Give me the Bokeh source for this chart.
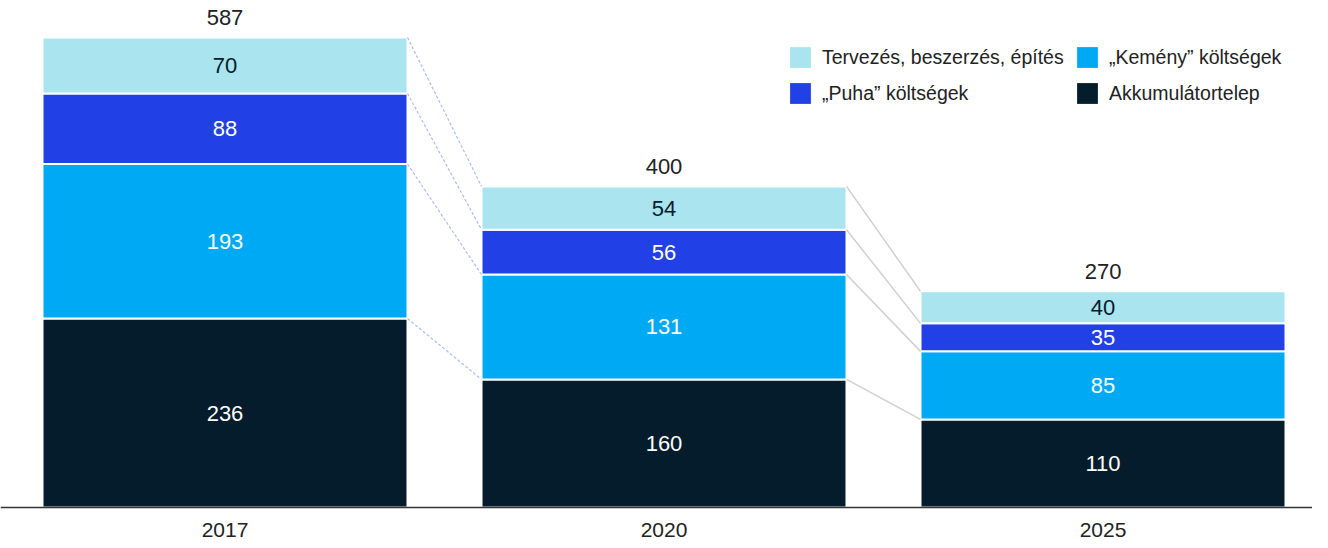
from bokeh.plotting import figure
from bokeh.models import Range1d, FixedTicker, Legend, LegendItem
from bokeh.core.properties import value
from bokeh.embed import file_html
from bokeh.resources import INLINE

years = ["2017", "2020", "2025"]
series = ["Akkumulátortelep", "„Kemény” költségek", "„Puha” költségek", "Tervezés, beszerzés, építés"]
akku = [236, 160, 110]
kemeny = [193, 131, 85]
puha = [88, 56, 35]
tervezes = [70, 54, 40]
totals = [587, 400, 270]

colors = ["#051C2C", "#00A9F4", "#2140E6", "#AAE4EE"]
label_colors = ["white", "white", "white", "#051C2C"]
FONT = "Liberation Sans"

W = 0.8314
p = figure(width=1312, height=540, output_backend="svg", toolbar_location=None,
           x_range=Range1d(-0.0114, 2.9772), y_range=Range1d(-41.2, 633.2),
           min_border_left=0, min_border_right=0, min_border_top=0, min_border_bottom=0)
p.outline_line_color = None
p.xgrid.visible = False
p.ygrid.visible = False
p.yaxis.visible = False

xs = [i + 0.5 for i in range(len(years))]
data = [akku, kemeny, puha, tervezes]
bottoms = [0.0] * len(years)
legend_renderers = []
tops_all = []
for k, vals in enumerate(data):
    tops = [b + v for b, v in zip(bottoms, vals)]
    p.vbar(x=xs, width=W, bottom=bottoms, top=tops, fill_color=colors[k],
           line_color="white", line_width=2)
    # legend swatch renderer: zero-height bar without outline
    lr = p.vbar(x=xs[:1], width=0.0, bottom=[0], top=[0], fill_color=colors[k],
                line_color=None)
    legend_renderers.append(lr)
    mids = [(b + t) / 2 for b, t in zip(bottoms, tops)]
    p.text(x=xs, y=mids, text=[str(v) for v in vals], text_align="center",
           text_baseline="middle", text_font=value(FONT), text_font_size="22px",
           text_color=label_colors[k])
    tops_all.append(tops)
    bottoms = tops

# totals
p.text(x=xs, y=bottoms, text=[str(t) for t in totals], text_align="center",
       text_baseline="middle", y_offset=-20, text_font=value(FONT),
       text_font_size="22px", text_color="#222222")

# connectors
for i in range(len(years) - 1):
    x0 = [xs[i] + W / 2] * 4
    x1 = [xs[i + 1] - W / 2] * 4
    y0 = [tops_all[k][i] for k in range(4)]
    y1 = [tops_all[k][i + 1] for k in range(4)]
    if i == 0:
        p.segment(x0=x0, y0=y0, x1=x1, y1=y1, line_color="#A9BEF5",
                  line_width=1.2, line_dash="3 2")
    else:
        p.segment(x0=x0, y0=y0, x1=x1, y1=y1, line_color="#D0D0D0", line_width=1.5)

# axis
ax = p.xaxis[0]
ax.fixed_location = 0
ax.ticker = FixedTicker(ticks=xs)
ax.major_label_overrides = {x: y for x, y in zip(xs, years)}
ax.major_tick_line_color = None
ax.minor_tick_line_color = None
ax.axis_line_color = "#333333"
ax.axis_line_width = 1.5
ax.major_label_text_font = FONT
ax.major_label_text_font_size = "21px"
ax.major_label_text_color = "#222222"
ax.major_label_standoff = 9

legend_style = dict(background_fill_alpha=0, border_line_color=None,
                    label_text_font=FONT, label_text_font_size="19.5px",
                    label_text_color="#222222", glyph_width=26, glyph_height=26,
                    spacing=10, label_standoff=9, padding=0, margin=0)
leg1 = Legend(items=[LegendItem(label=series[3], renderers=[legend_renderers[3]]),
                     LegendItem(label=series[2], renderers=[legend_renderers[2]])],
              location=(787, 434), **legend_style)
leg2 = Legend(items=[LegendItem(label=series[1], renderers=[legend_renderers[1]]),
                     LegendItem(label=series[0], renderers=[legend_renderers[0]])],
              location=(1074, 434), **legend_style)
p.add_layout(leg1)
p.add_layout(leg2)

open("out.html", "w").write(file_html(p, INLINE))
